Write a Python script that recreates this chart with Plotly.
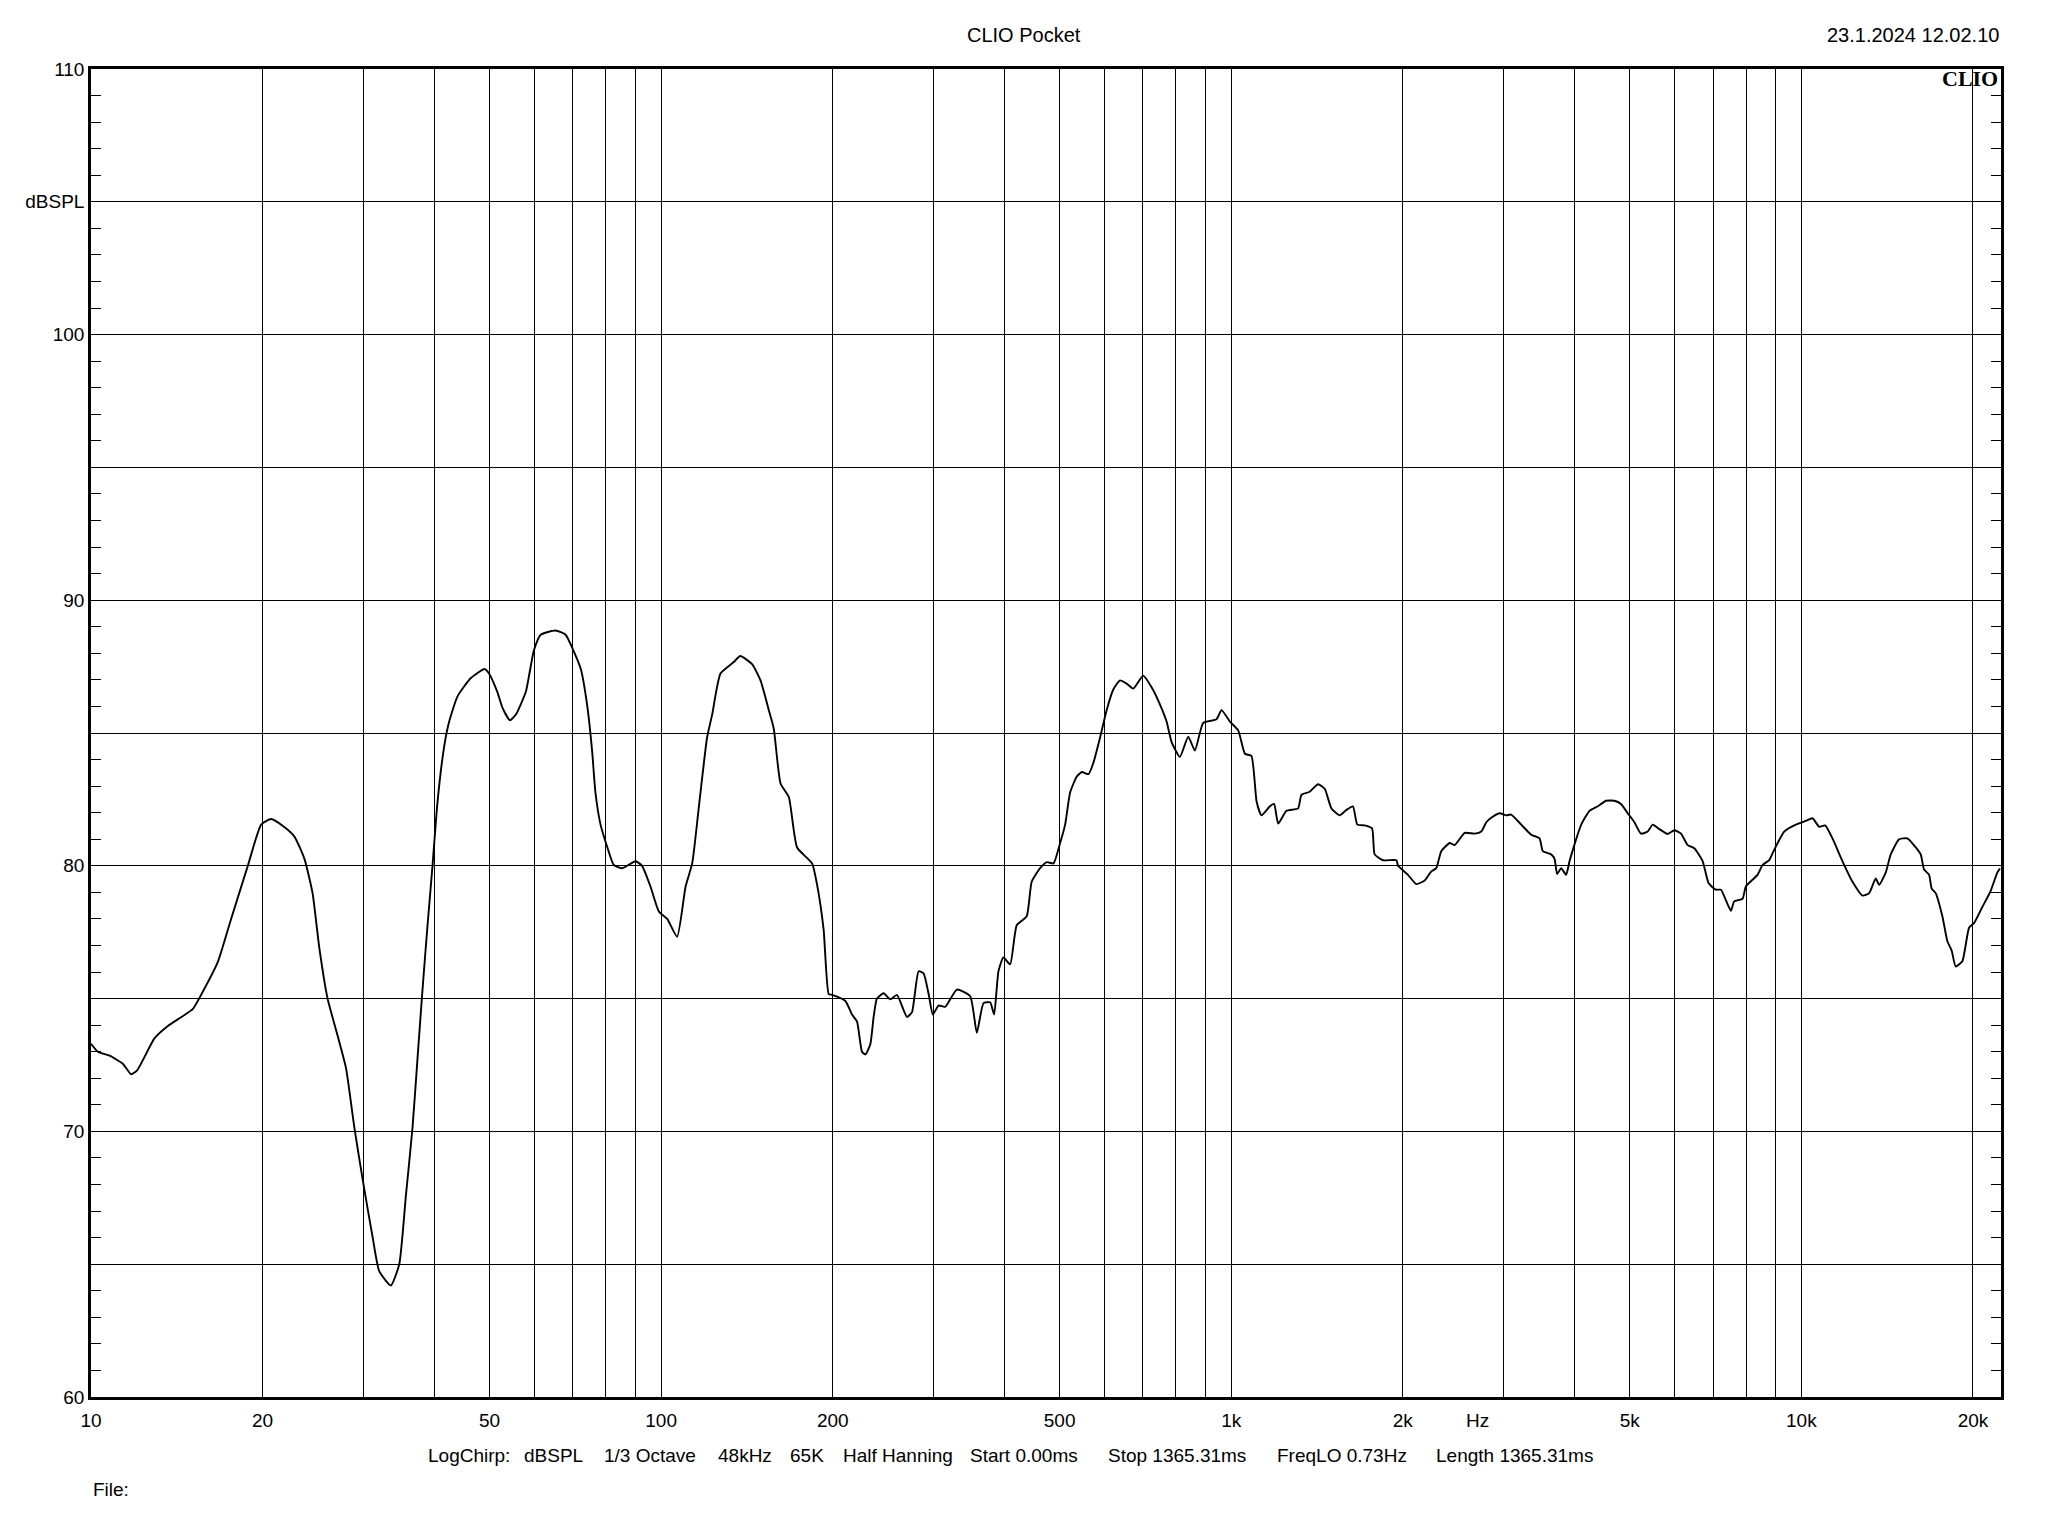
import math
import plotly.graph_objects as go

# ---- data ----
freq_hz = [
    10.0, 10.28, 10.78, 11.37, 11.76, 12.05, 12.92, 13.64, 14.39, 15.08, 15.6, 16.69, 17.61,
    18.84, 19.88, 20.7, 21.8, 22.74, 23.68, 24.47, 25.15, 26.0, 27.08, 28.0, 28.96, 29.95,
    31.18, 32.03, 33.57, 34.73, 35.68, 36.65, 37.39, 38.15, 38.93, 39.72, 40.53, 41.64,
    42.49, 43.94, 46.37, 49.0, 49.9, 51.6, 52.7, 54.3, 55.6, 57.9, 59.8, 61.5, 65.3, 68.0,
    69.9, 72.3, 74.2, 75.7, 76.7, 78.3, 80.5, 82.6, 85.5, 90.2, 92.6, 95.8, 99.1, 102.5,
    106.7, 110.4, 113.4, 116.5, 120.4, 122.9, 127.1, 134.1, 137.7, 144.4, 149.4, 154.5,
    157.6, 162, 167.5, 173.2, 184, 187.7, 192.8, 196.8, 199.5, 210.5, 216.2, 220.6, 225.1,
    228.2, 232.8, 235.9, 239.1, 245.6, 252.4, 259.2, 269.9, 275.4, 282.9, 288.7, 294.6,
    299.7, 306.6, 315, 330.2, 348.5, 357.9, 367.7, 377.7, 383.8, 390.6, 398.5, 409.5,
    420.5, 437.8, 446.7, 462.2, 474.8, 487.8, 501.1, 511.3, 521.7, 535.9, 546.9, 561.8,
    573.2, 588.8, 604.6, 621.2, 638.2, 655.3, 673.3, 701, 725, 750, 770.3, 786, 812.8,
    840.6, 863.6, 893.1, 942.4, 961.6, 994.7, 1029, 1057, 1085, 1108, 1130, 1169, 1189,
    1209, 1250, 1310, 1328, 1373, 1420, 1459, 1499, 1550, 1592, 1635, 1664, 1714, 1766,
    1785, 1846, 1949, 1962, 2042, 2112, 2185, 2244, 2289, 2336, 2417, 2466, 2568, 2673,
    2746, 2802, 2858, 2957, 3036, 3098, 3226, 3358, 3474, 3521, 3641, 3691, 3730, 3791,
    3868, 3921, 3974, 4110, 4251, 4395, 4545, 4700, 4828, 4960, 5096, 5233, 5378, 5487,
    5637, 5830, 5988, 6150, 6319, 6491, 6714, 6878, 7080, 7228, 7375, 7525, 7626, 7888,
    7993, 8379, 8550, 8783, 8962, 9333, 9781, 10183, 10462, 10747, 11010, 11340, 11810,
    12296, 12803, 13152, 13505, 13693, 14060, 14349, 14843, 15346, 15875, 16197, 16418,
    16753, 16931, 17206, 17676, 18038, 18353, 18652, 19165, 19689, 20088, 20774, 21479,
    22066, 22300,
]
spl_db = [
    73.3, 73.0, 72.85, 72.55, 72.15, 72.3, 73.5, 73.97, 74.3, 74.6, 75.14, 76.38, 78.0,
    80.0, 81.55, 81.76, 81.47, 81.1, 80.26, 78.97, 76.9, 75.0, 73.6, 72.4, 70.17, 68.2,
    66.03, 64.74, 64.2, 65.0, 67.6, 70.17, 72.76, 75.34, 77.76, 80.0, 82.4, 84.5,
    85.43, 86.38, 87.07, 87.41, 87.24, 86.55, 85.95, 85.48, 85.69, 86.55, 88.1, 88.7, 88.86, 88.7,
    88.19, 87.41, 86.03, 84.3, 82.76, 81.55, 80.69, 80.03, 79.91, 80.17, 80.0, 79.22, 78.28, 78.0,
    77.33, 79.22, 80.1, 82.24, 84.83, 85.69, 87.24, 87.67, 87.9, 87.59, 86.98, 85.86,
    85.17, 83.1, 82.59, 80.69, 80.09, 79.3, 77.59, 75.17, 75.14, 74.91, 74.4, 74.14, 73.0,
    72.9, 73.28, 74.3, 75.0, 75.2, 74.97, 75.14, 74.31, 74.48, 76.03, 75.95, 75.17,
    74.4, 74.74, 74.69, 75.34, 75.09, 73.71, 74.83, 74.86, 74.4, 76.03, 76.55, 76.29,
    77.76, 78.1, 79.4, 79.91, 80.14, 80.09, 80.86, 81.55, 82.76, 83.36, 83.53, 83.45,
    83.88, 84.83, 85.86, 86.64, 86.98, 86.86, 86.67, 87.16, 86.72, 86.07, 85.43, 84.66, 84.1,
    84.86, 84.34, 85.38, 85.52, 85.86, 85.43, 85.09, 84.22, 84.14, 82.41, 81.9, 82.24, 82.33,
    81.59, 82.07, 82.16, 82.67, 82.79, 83.07, 82.9, 82.16, 81.9, 82.1, 82.24, 81.55, 81.52, 81.41,
    80.43, 80.21, 80.21, 80.0, 79.66, 79.31, 79.45, 79.79, 79.91, 80.55, 80.86, 80.78, 81.24, 81.21,
    81.29, 81.64, 81.81, 81.98, 81.9, 81.93, 81.55, 81.17, 81.03, 80.55, 80.43, 80.26, 79.69, 79.91,
    79.66, 80.17, 80.6, 81.55, 82.07, 82.24, 82.45, 82.45, 82.33, 81.98, 81.64, 81.21, 81.29, 81.55,
    81.38, 81.2, 81.34, 81.21, 80.78, 80.66, 80.17, 79.34, 79.1, 79.1, 78.7, 78.31, 78.66, 78.76,
    79.22, 79.66, 80.03, 80.21, 80.6, 81.29, 81.55, 81.69, 81.79, 81.47, 81.52, 81.03, 80.17,
    79.4, 78.88, 78.97, 79.52, 79.28, 79.74, 80.43, 81.0, 81.03, 80.69, 80.43, 79.86,
    79.66, 79.14, 78.97, 78.1, 77.16, 76.81, 76.21, 76.41, 77.67, 77.84, 78.45, 79.05,
    79.74, 79.9,
]

x_grid_vals = [10, 20, 30, 40, 50, 60, 70, 80, 90,
               100, 200, 300, 400, 500, 600, 700, 800, 900,
               1000, 2000, 3000, 4000, 5000, 6000, 7000, 8000, 9000,
               10000, 20000]
x_grid_text = ["10", "20", "", "", "50", "", "", "", "",
               "100", "200", "", "", "500", "", "", "", "",
               "1k", "2k", "", "", "5k", "", "", "", "",
               "10k", "20k"]
y_grid_vals = [60, 65, 70, 75, 80, 85, 90, 95, 100, 105, 110]
y_grid_text = ["60", "", "70", "", "80", "", "90", "", "100", "dBSPL", "110"]

x_min_hz = 10
x_max_hz = 22400
y_min_db = 60
y_max_db = 110

title_text = "CLIO Pocket"
date_text = "23.1.2024 12.02.10"
logo_text = "CLIO"
unit_text = "Hz"
settings_items = ["LogChirp:", "dBSPL", "1/3 Octave", "48kHz", "65K", "Half Hanning",
                  "Start 0.00ms", "Stop 1365.31ms", "FreqLO 0.73Hz", "Length 1365.31ms"]
file_text = "File:"

# ---- layout geometry (pixels) ----
W, H = 2048, 1536
L, R, T, B = 91, 2001, 69, 1397   # plot area edges
FONT = "Liberation Sans, Arial, sans-serif"
settings_left_px = [426, 522, 602, 716, 788, 841, 968, 1106, 1275, 1434]


def px_x(px):
    return (px - L) / (R - L)


def px_y(py):
    return (B - py) / (B - T)


fig = go.Figure()
fig.add_trace(go.Scatter(
    x=freq_hz, y=spl_db, mode="lines",
    line=dict(color="black", width=1.9, shape="spline", smoothing=0.5),
    hoverinfo="skip", showlegend=False,
))

fig.update_layout(
    width=W, height=H,
    margin=dict(l=L, r=W - R, t=T, b=H - B, pad=0),
    paper_bgcolor="white", plot_bgcolor="white",
    font=dict(family=FONT, size=19, color="black"),
    showlegend=False,
)

fig.update_xaxes(
    type="log",
    range=[math.log10(x_min_hz), math.log10(x_max_hz)],
    tickmode="array", tickvals=x_grid_vals, ticktext=x_grid_text,
    showgrid=True, gridcolor="black", gridwidth=1,
    showline=True, linecolor="black", linewidth=2.5, mirror=True,
    ticks="", zeroline=False,
    tickfont=dict(family=FONT, size=19, color="black"),
    ticklabelstandoff=4,
)
fig.update_yaxes(
    range=[y_min_db, y_max_db],
    tickmode="array", tickvals=y_grid_vals, ticktext=y_grid_text,
    showgrid=True, gridcolor="black", gridwidth=1,
    showline=True, linecolor="black", linewidth=2.5, mirror="ticks",
    ticks="inside", ticklen=10, tickcolor="black", tickwidth=1,
    minor=dict(dtick=1, ticks="inside", ticklen=10, tickcolor="black",
               tickwidth=1, showgrid=False),
    zeroline=False,
    tickfont=dict(family=FONT, size=19, color="black"),
    ticklabelstandoff=0,
)

ann = []
ann.append(dict(text=title_text, x=px_x(1024), y=px_y(35), xref="paper", yref="paper",
                xanchor="center", yanchor="middle", showarrow=False,
                font=dict(family=FONT, size=20, color="black")))
ann.append(dict(text=date_text, x=px_x(R), y=px_y(35), xref="paper", yref="paper",
                xanchor="right", yanchor="middle", showarrow=False,
                font=dict(family=FONT, size=20, color="black")))
ann.append(dict(text="<b>" + logo_text + "</b>", x=px_x(R - 1), y=px_y(79), xref="paper",
                yref="paper", xanchor="right", yanchor="middle", showarrow=False,
                font=dict(family="Liberation Serif, Times New Roman, serif", size=22,
                          color="black")))
ann.append(dict(text=unit_text, x=px_x(1477), y=px_y(1420), xref="paper", yref="paper",
                xanchor="center", yanchor="middle", showarrow=False,
                font=dict(family=FONT, size=19, color="black")))
for item, lx in zip(settings_items, settings_left_px):
    ann.append(dict(text=item, x=px_x(lx), y=px_y(1455), xref="paper", yref="paper",
                    xanchor="left", yanchor="middle", showarrow=False,
                    font=dict(family=FONT, size=19, color="black")))
ann.append(dict(text=file_text, x=px_x(91), y=px_y(1489), xref="paper", yref="paper",
                xanchor="left", yanchor="middle", showarrow=False,
                font=dict(family=FONT, size=19, color="black")))
fig.update_layout(annotations=ann)

fig.write_html("out.html", config={"displayModeBar": False},
               post_script="document.body.style.margin='0';document.body.style.overflow='hidden';")
